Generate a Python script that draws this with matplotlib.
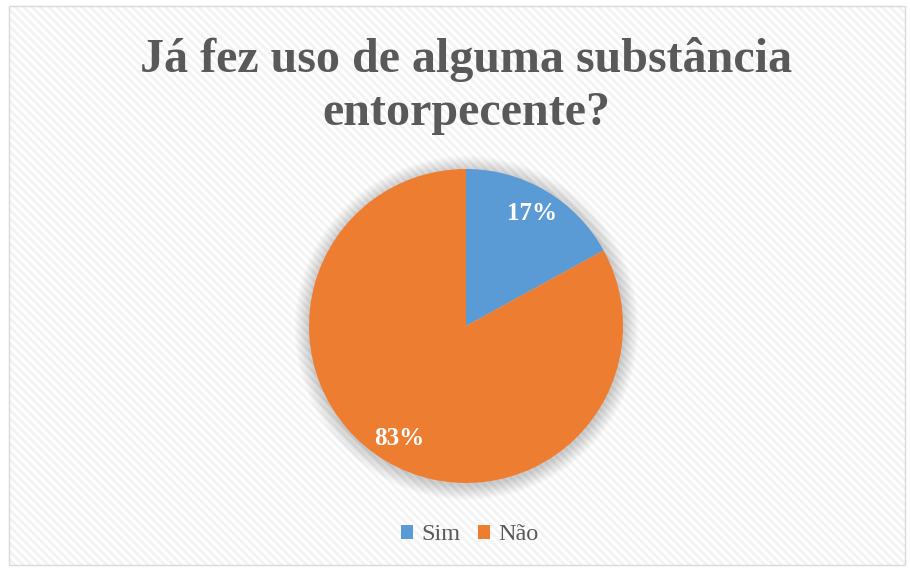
import matplotlib
matplotlib.use('Agg')
import matplotlib.pyplot as plt
from matplotlib.patches import Rectangle, Circle

# Données
categories = ['Sim', 'Não']
valeurs = [17, 83]
couleurs = ['#5B9BD5', '#ED7D31']
titre = 'Já fez uso de alguma substância\nentorpecente?'

W, H = 910, 568
fig = plt.figure(figsize=(W / 100, H / 100), dpi=100)
fig.patch.set_facecolor('white')

# Cadre du graphique avec fond hachuré léger
plt.rcParams['hatch.linewidth'] = 2.0
cadre = Rectangle((9 / W, 1 - 565 / H), (905 - 9) / W, (565 - 6) / H,
                  transform=fig.transFigure, facecolor='white',
                  edgecolor='#F3F3F3', hatch='\\\\\\\\', linewidth=0, zorder=-2)
fig.patches.append(cadre)
bord = Rectangle((9 / W, 1 - 565 / H), (905 - 9) / W, (565 - 6) / H,
                 transform=fig.transFigure, facecolor='none',
                 edgecolor='#D9D9D9', linewidth=1.0, zorder=-1)
fig.patches.append(bord)

# Titre
fig.text(466 / W, 1 - 86 / H, titre, ha='center', va='center',
         fontsize=34.6, fontweight='bold', color='#595959',
         family='Liberation Serif', linespacing=1.26)

# Camembert
cx, cy, r = 466, 326, 157
m = 1.15
ax = fig.add_axes([(cx - r * m) / W, 1 - (cy + r * m) / H, 2 * r * m / W, 2 * r * m / H])
ax.patch.set_alpha(0)

# Ombre douce autour du camembert
for i in range(16):
    ax.add_patch(Circle((0.004, -0.012), 1.0 + 0.006 * (i + 1), color='black',
                        alpha=0.012, linewidth=0, zorder=0))

wedges, textes, pcts = ax.pie(valeurs, colors=couleurs, startangle=90,
                              counterclock=False, autopct='%d%%',
                              pctdistance=0.83, radius=1.0,
                              wedgeprops=dict(linewidth=0),
                              textprops=dict(color='white', fontsize=18,
                                             fontweight='bold',
                                             family='Liberation Serif'))
for w in wedges:
    w.set_zorder(2)
ax.set_xlim(-m, m)
ax.set_ylim(-m, m)
ax.set_aspect('equal')
ax.axis('off')

# Légende
leg = fig.legend(wedges, categories, loc='center', bbox_to_anchor=(470 / W, 1 - 535 / H),
                 ncol=2, frameon=False, handlelength=0.5, handleheight=0.5,
                 handletextpad=0.35, columnspacing=0.7,
                 prop={'family': 'Liberation Serif', 'size': 17.5})
for t in leg.get_texts():
    t.set_color('#595959')
for h in leg.legend_handles:
    h.set_edgecolor('none')

fig.savefig('out.png', dpi=100)
plt.close(fig)
